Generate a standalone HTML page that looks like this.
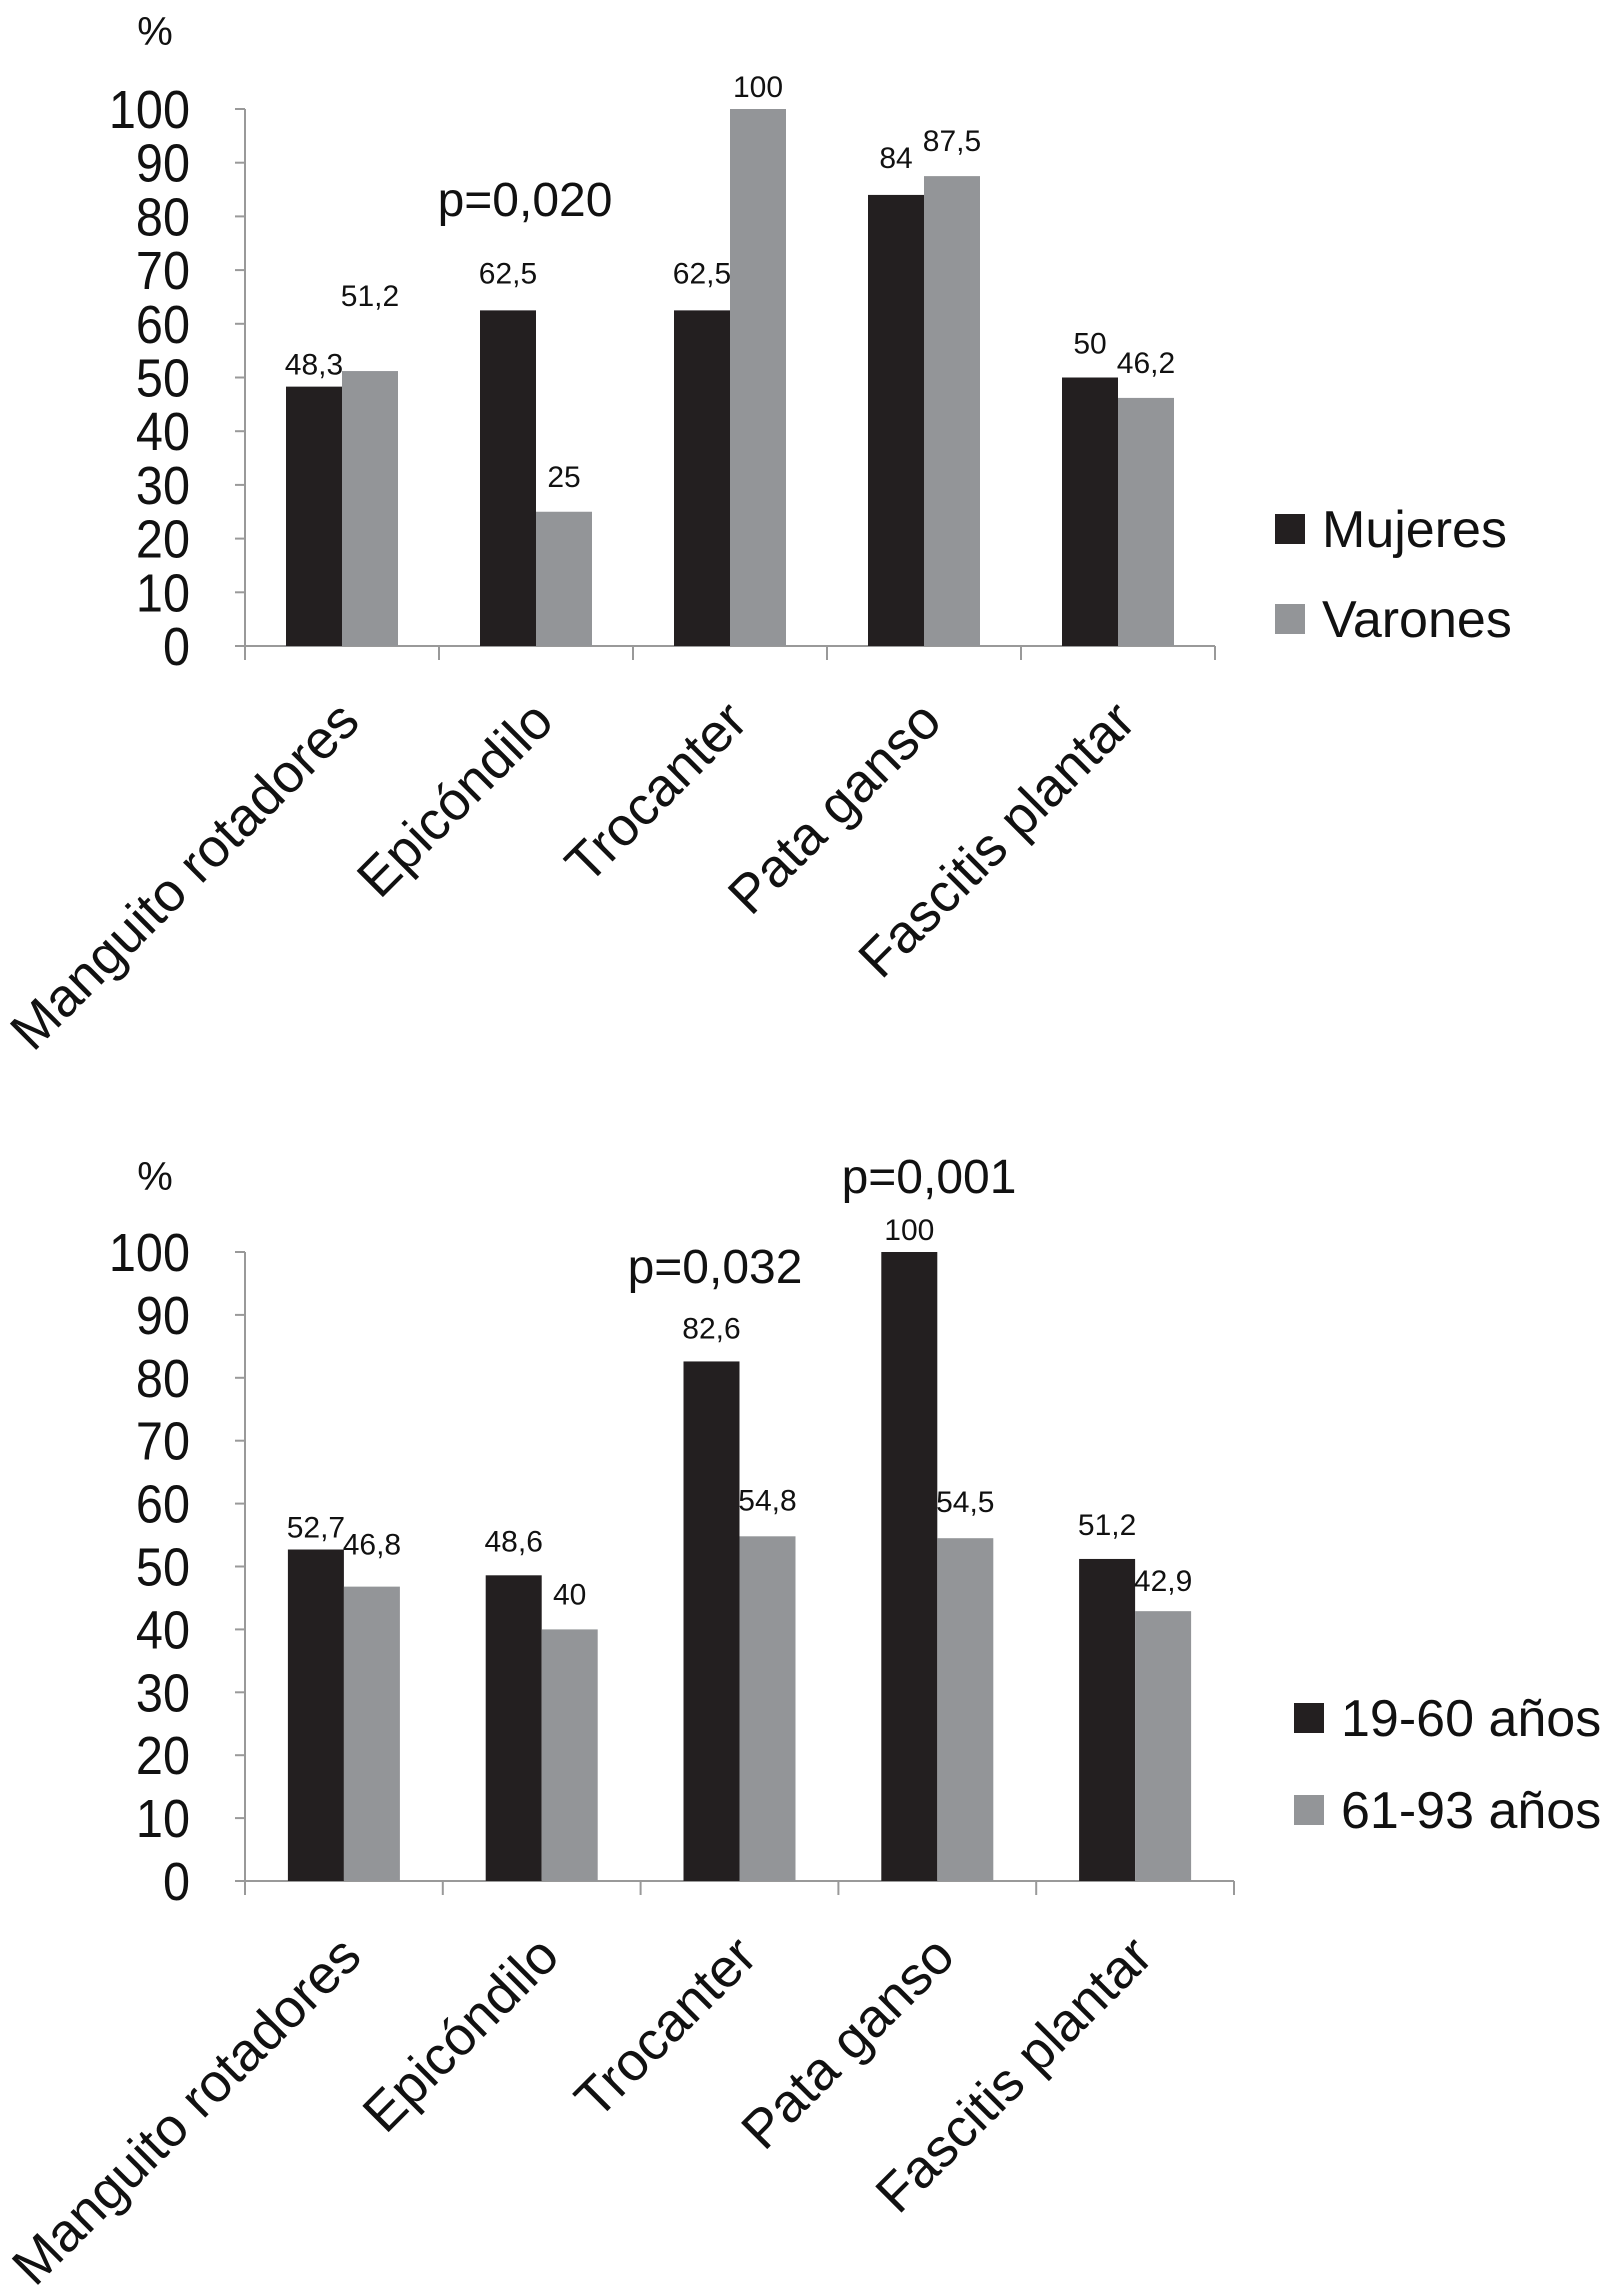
<!DOCTYPE html>
<html><head><meta charset="utf-8">
<style>
html,body{margin:0;padding:0;background:#fff;}
svg{display:block;font-family:"Liberation Sans",sans-serif;}
</style></head>
<body>
<svg id="svg" width="1605" height="2292" viewBox="0 0 1605 2292"></svg>
<script>
const categories = ["Manguito rotadores","Epicóndilo","Trocanter","Pata ganso","Fascitis plantar"];
const yTicks = [0,10,20,30,40,50,60,70,80,90,100];
const c1Mujeres = [48.3,62.5,62.5,84,50];
const c1Varones = [51.2,25,100,87.5,46.2];
const c1MujeresLabels = ["48,3","62,5","62,5","84","50"];
const c1VaronesLabels = ["51,2","25","100","87,5","46,2"];
const c2Young = [52.7,48.6,82.6,100,51.2];
const c2Old = [46.8,40,54.8,54.5,42.9];
const c2YoungLabels = ["52,7","48,6","82,6","100","51,2"];
const c2OldLabels = ["46,8","40","54,8","54,5","42,9"];

const NS="http://www.w3.org/2000/svg";
const svg=document.getElementById('svg');
function mk(tag,attrs,parent){const e=document.createElementNS(NS,tag);for(const k in attrs)e.setAttribute(k,attrs[k]);(parent||svg).appendChild(e);return e;}

function chart(cfg){
  const g=mk('g',{});
  
  
  const y=v=>cfg.y0-(cfg.y0-cfg.y100)*v/100;
  const cw=(cfg.xr-cfg.x0)/categories.length;
  const x=i=>cfg.x0+i*cw;
  const bw=56, off=(cw-2*bw)/2;
  const ya=mk('line',{x1:cfg.x0,y1:cfg.y100,x2:cfg.x0,y2:cfg.y0,stroke:'#999','stroke-width':2},g);
  
  
  yTicks.forEach(t=>{
    const tk=mk('line',{x1:cfg.x0-10,y1:y(t),x2:cfg.x0,y2:y(t),stroke:'#999','stroke-width':2},g);
    
    
    const tl=mk('text',{x:cfg.x0-55,y:y(t)+19,'text-anchor':'end','font-size':54,fill:'#111',transform:`translate(${(cfg.x0-55)*0.1} 0) scale(0.9 1)`},g);
    tl.textContent=t;
    
    
  });
  const xa=mk('line',{x1:cfg.x0,y1:cfg.y0,x2:cfg.xr,y2:cfg.y0,stroke:'#999','stroke-width':2},g);
  
  
  for(let i=0;i<=categories.length;i++){
    const tk=mk('line',{x1:x(i),y1:cfg.y0,x2:x(i),y2:cfg.y0+14,stroke:'#999','stroke-width':2},g);
    
    
  }
  categories.forEach((c,i)=>{
    const cx=x(i)+cw/2+20, cy=cfg.y0+78;
    const t=mk('text',{x:cx,y:cy,'text-anchor':'end','font-size':54,fill:'#111',transform:`rotate(-45 ${cx} ${cy})`},g);
    t.textContent=c;
    
    
  });
  [[cfg.s1,cfg.l1,'#231f20',0,cfg.d1],[cfg.s2,cfg.l2,'#939598',1,cfg.d2]].forEach(([vals,labs,col,k,dy])=>{
    vals.forEach((v,i)=>{
      const bx=x(i)+off+k*bw;
      const r=mk('rect',{x:bx,y:y(v),width:bw,height:cfg.y0-y(v),fill:col},g);
      
      
      const t=mk('text',{x:bx+bw/2,y:y(v)-12+(dy[i]||0),'text-anchor':'middle','font-size':30,fill:'#111'},g);
      t.textContent=labs[i];
      
      
    });
  });
  const pc=mk('text',{x:155,y:cfg.pctY,'text-anchor':'middle','font-size':40,fill:'#111'},g);
  pc.textContent='%';
  
  
  cfg.pvals.forEach(p=>{
    const t=mk('text',{x:p[0],y:p[1],'text-anchor':'middle','font-size':48,fill:'#111'},g);
    t.textContent=p[2];
    
    
  });
  cfg.legend.forEach((L,j)=>{
    const r=mk('rect',{x:cfg.lx,y:L[1],width:30,height:30,fill:L[2]},g);
    
    
    const t=mk('text',{x:cfg.lx+47,y:L[1]+33,'font-size':52,fill:'#111'},g);
    t.textContent=L[0];
    
    
  });
}
chart({name:'chart-sex',x0:245,xr:1215,y0:646,y100:109,s1:c1Mujeres,s2:c1Varones,l1:c1MujeresLabels,l2:c1VaronesLabels,
  d1:[0,-15,-15,-15,-12],d2:[-53,-13,0,-13,-13],pctY:45,pvals:[[525,216,'p=0,020']],lx:1275,
  legend:[['Mujeres',514,'#231f20'],['Varones',604,'#939598']]});
chart({name:'chart-age',x0:245,xr:1234,y0:1881,y100:1252,s1:c2Young,s2:c2Old,l1:c2YoungLabels,l2:c2OldLabels,
  d1:[0,-12,-11,0,-12],d2:[-20,-13,-14,-14,-8],pctY:1190,pvals:[[715,1283,'p=0,032'],[929,1193,'p=0,001']],lx:1294,
  legend:[['19-60 años',1703,'#231f20'],['61-93 años',1795,'#939598']]});
</script>
</body></html>
